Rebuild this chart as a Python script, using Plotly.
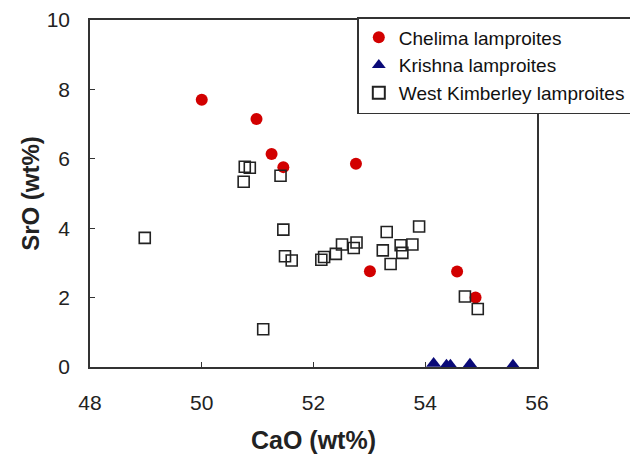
import plotly.graph_objects as go

# Chelima lamproites
chelima_cao = [50.00, 50.98, 51.25, 51.46, 52.76, 53.01, 54.57, 54.90]
chelima_sro = [7.70, 7.15, 6.14, 5.76, 5.86, 2.76, 2.75, 2.00]

# Krishna lamproites
krishna_cao = [54.15, 54.38, 54.45, 54.80, 55.57]
krishna_sro = [0.10, 0.05, 0.05, 0.08, 0.05]

# West Kimberley lamproites
wk_cao = [50.77, 50.86, 50.75, 51.41, 51.46, 51.49, 51.61, 52.14, 52.19, 52.40,
          52.51, 52.72, 52.77, 53.24, 53.31, 53.38, 53.56, 53.59, 53.77, 53.89,
          51.10, 48.98, 54.71, 54.94]
wk_sro = [5.77, 5.74, 5.34, 5.51, 3.96, 3.19, 3.07, 3.09, 3.17, 3.26,
          3.53, 3.43, 3.59, 3.36, 3.89, 2.97, 3.51, 3.29, 3.53, 4.05,
          1.09, 3.72, 2.03, 1.67]

x_ticks = [48, 50, 52, 54, 56]
y_ticks = [0, 2, 4, 6, 8, 10]

FONT = "Arial, Liberation Sans, sans-serif"

fig = go.Figure()
fig.add_trace(go.Scatter(
    x=chelima_cao, y=chelima_sro, mode="markers", name="Chelima lamproites",
    marker=dict(symbol="circle", size=12, color="#d20000", line=dict(width=0)),
))
fig.add_trace(go.Scatter(
    x=krishna_cao, y=krishna_sro, mode="markers", name="Krishna lamproites",
    marker=dict(symbol="triangle-up", size=13, color="#0a0a78", line=dict(width=0)),
    cliponaxis=False,
))
fig.add_trace(go.Scatter(
    x=wk_cao, y=wk_sro, mode="markers", name="West Kimberley lamproites",
    marker=dict(symbol="square-open", size=11, color="#222222", line=dict(width=1.6)),
))

axis_common = dict(
    showgrid=False, zeroline=False, showline=True, linecolor="#333333", linewidth=1.5,
    mirror=True, ticks="inside", ticklen=5, tickcolor="#333333", tickwidth=1.2,
    tickfont=dict(family=FONT, size=21, color="#222222"),
)

# The page body adds an 8px margin, so the figure is sized to fit the window.
fig.update_layout(
    width=630, height=446,
    margin=dict(l=82, r=101, t=12, b=87, autoexpand=False),
    paper_bgcolor="white", plot_bgcolor="white",
    showlegend=True,
    legend=dict(
        x=0.598, y=1.0086, xanchor="left", yanchor="top",
        bgcolor="white", bordercolor="#333333", borderwidth=1.5,
        font=dict(family=FONT, size=19, color="#111111"),
        tracegroupgap=0, itemsizing="constant",
    ),
    xaxis=dict(range=[48, 56], tickvals=x_ticks, ticklabelstandoff=16,
               title=dict(text="<b>CaO (wt%)</b>", font=dict(family=FONT, size=25, color="#222222"), standoff=21),
               **axis_common),
    yaxis=dict(range=[0, 10], tickvals=y_ticks, ticklabelstandoff=14,
               title=dict(text="<b>SrO (wt%)</b>", font=dict(family=FONT, size=24, color="#222222"), standoff=0),
               **axis_common),
)

fig.write_html("out.html")
